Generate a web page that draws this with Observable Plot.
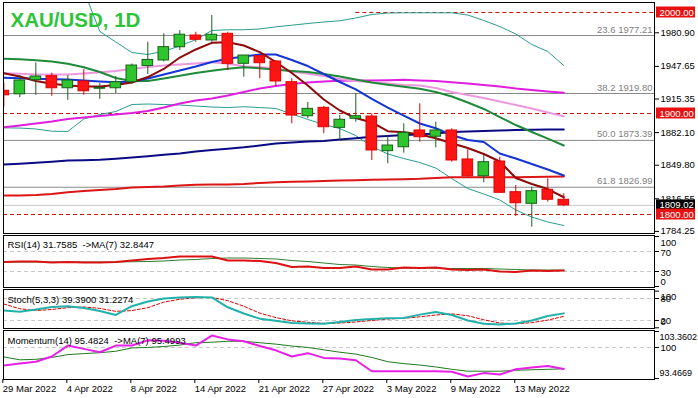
<!DOCTYPE html>
<html><head><meta charset="utf-8">
<script src="https://cdn.jsdelivr.net/npm/d3@7"></script>
<script src="https://cdn.jsdelivr.net/npm/@observablehq/plot@0.6"></script>
<style>
body{margin:0;background:#fff;}
#chart{position:relative;width:698px;height:398px;overflow:hidden;background:#fff;}
#chart svg{position:absolute;left:0;}
</style></head><body><div id="chart"></div>
<script>
// ---------- data ----------
const title = "XAU/USD, 1D";
const dates = ["29 Mar 2022","30 Mar 2022","31 Mar 2022","1 Apr 2022","4 Apr 2022","5 Apr 2022","6 Apr 2022","7 Apr 2022","8 Apr 2022","11 Apr 2022","12 Apr 2022","13 Apr 2022","14 Apr 2022","18 Apr 2022","19 Apr 2022","20 Apr 2022","21 Apr 2022","22 Apr 2022","25 Apr 2022","26 Apr 2022","27 Apr 2022","28 Apr 2022","29 Apr 2022","2 May 2022","3 May 2022","4 May 2022","5 May 2022","6 May 2022","9 May 2022","10 May 2022","11 May 2022","12 May 2022","13 May 2022","16 May 2022","17 May 2022","18 May 2022"];
const xTickLabels = ["29 Mar 2022","4 Apr 2022","8 Apr 2022","14 Apr 2022","21 Apr 2022","27 Apr 2022","3 May 2022","9 May 2022","13 May 2022"];

const open  = [1922.5,1919,1933,1937,1925,1931.7,1924.5,1925,1931,1947,1952.5,1965.6,1977.2,1972.3,1978.9,1949.2,1956.7,1951.5,1931,1897.3,1905.6,1885.8,1894.8,1897,1862.7,1866.6,1883.2,1877,1883.2,1854.5,1837.9,1852.5,1822.1,1810.6,1824.5,1814.6];
const high  = [1930,1937.6,1950,1940,1937.6,1943.6,1929.7,1936.6,1949,1970.6,1979,1982,1980.5,1997,1980.5,1957.4,1957.4,1952.5,1934.4,1911,1907,1898,1919.5,1899.7,1878,1889.8,1909.6,1891.4,1884.8,1865,1858.4,1856.7,1828.7,1827,1835.4,1820.5];
const low   = [1906,1915.8,1918,1917,1913,1918,1914,1919.8,1929,1938.6,1951,1962.4,1970.6,1970.6,1942.6,1936,1934.4,1926.7,1889.8,1894.8,1880,1872.6,1891.4,1853.5,1850.2,1860.7,1871.6,1866,1851.8,1837,1831.4,1821.5,1798,1787.4,1812.2,1807.8];
const close = [1918,1932.7,1936.6,1925,1932.7,1922,1925.5,1931,1947.5,1953,1965.7,1978,1973,1978,1949.2,1957.4,1949.8,1931.7,1898,1904.6,1886.4,1893.8,1897.3,1863.4,1868.3,1880.9,1876.5,1883.2,1853.5,1837.9,1851.8,1821.5,1811.2,1823.1,1814.6,1809.02];

const maMaroon  = [1939.9,1936.6,1932.2,1929.4,1927.7,1926.7,1926.7,1928.2,1930.7,1936.1,1944.1,1955.4,1963.4,1970.0,1970.6,1967.3,1960.7,1951.0,1940.1,1927.7,1913.9,1903.0,1895.5,1891.1,1882.5,1881.5,1879.2,1875.5,1870.6,1865.8,1859.9,1852.5,1836.1,1830.2,1825.2,1817.1];
const maBlue    = [1935.3,1934.9,1934.4,1934.0,1933.7,1932.7,1931.7,1931.0,1931.7,1934.7,1938.6,1942.6,1946.5,1951.0,1954.2,1956.4,1958.4,1958.4,1953.0,1947.0,1939.1,1931.2,1923.8,1914.4,1905.9,1898.0,1890.1,1885.4,1878.7,1873.8,1871.8,1860.4,1855.4,1850.0,1844.6,1838.6];
const maGreen   = [1954.2,1953.7,1952.8,1951.5,1949.2,1945.8,1941.1,1935.1,1932.2,1932.2,1934.7,1937.3,1940.1,1942.3,1944.3,1945.8,1944.9,1943.4,1942.1,1941.1,1939.1,1936.6,1933.7,1930.7,1928.5,1926.4,1924.5,1921.3,1916.8,1910.9,1904.5,1896.5,1888.6,1881.7,1875.2,1868.3];
const maPlum    = [1939.9,1939.3,1938.6,1938.6,1938.6,1939.6,1940.8,1942.1,1944.1,1946.0,1947.5,1948.5,1949.5,1950.7,1949.2,1946.8,1945.8,1944.9,1941.6,1939.3,1937.1,1934.2,1932.2,1931.0,1929.7,1928.2,1927.7,1925.2,1921.3,1918.3,1915.3,1911.9,1908.4,1905.0,1901.0,1897.3];
const maMagenta = [1886.4,1888.1,1890.1,1892.1,1894.6,1896.0,1897.5,1899.0,1900.5,1902.5,1905.9,1909.9,1912.9,1914.9,1917.8,1921.3,1924.8,1927.2,1929.2,1930.7,1931.7,1932.4,1932.7,1932.7,1933.0,1933.4,1932.7,1932.2,1930.9,1929.7,1928.2,1926.7,1924.8,1923.3,1921.8,1920.5];
const maNavy    = [1849.5,1850.3,1851.3,1852.3,1853.5,1853.8,1854.2,1855.2,1856.4,1857.7,1859.1,1860.4,1862.4,1863.9,1865.1,1866.5,1868.3,1870.2,1871.3,1872.3,1872.8,1874.3,1875.5,1877.0,1877.7,1878.7,1879.2,1880.2,1881.7,1882.2,1882.7,1883.2,1883.7,1883.9,1884.2,1884.2];
const maRed     = [1818.8,1818.8,1819.3,1820.3,1822.0,1823.3,1824.3,1825.2,1826.7,1827.2,1827.7,1828.7,1829.4,1829.7,1829.7,1830.2,1831.2,1831.9,1832.4,1832.7,1833.2,1833.7,1834.0,1834.3,1834.7,1835.0,1835.3,1836.1,1836.8,1836.9,1836.9,1836.9,1837.0,1837.1,1837.4,1837.6];
const bandUpper = [2060,2050,2040,2032,2025,2021.8,1981.2,1970.8,1960.4,1958.4,1961.7,1966.8,1973.1,1982.2,1982.9,1982.9,1983.7,1985.8,1987.4,1989.1,1990.6,1991.8,1994.6,1998.0,1999.5,1999.7,1999.7,1999.7,1999.7,1997.5,1992.1,1986.1,1978.7,1968.3,1961.4,1947.5];
const bandLower = [1885.8,1885.6,1884.7,1882.5,1882.2,1894.6,1899.0,1902.0,1908.9,1909.4,1908.9,1908.4,1907.4,1906.4,1905.9,1906.7,1905.9,1905.0,1899.5,1894.1,1889.1,1885.1,1878.2,1867.3,1859.9,1855.4,1851.5,1846.0,1835.6,1825.7,1820.3,1814.4,1804.5,1797.5,1792.6,1789.1];

const fibPct    = ["23.6","38.2","50.0","61.8"];
const fibLevels = [1977.21,1919.80,1873.39,1826.99];
const roundLevels = [2000,1900,1800];
const level2000From = "29 Apr 2022";
const priceTicks = [1980.90,1947.65,1915.35,1882.10,1849.80,1816.55,1784.25];

const rsi   = [49,50,50,48,49,48,48,49,52,55,57,60,60,60,52,52,51,47,39,40,37,37,40,34,34,38,37,38,34,33,34,30,29,32,31,31.7585];
const rsiMA = [49,49,49,49,49,49,49,49,49.5,50,51,53,54,56,57,57,56,55,52,50,47,44,43,40,38,37,37,37,36,36,36,35,34,33,33,32.8447];
const stochK = [47,44,50,57,59,54,46,35,59,72,80,83,84,83,56,39,25,19,13,12,11,16,21,24,26,27,36,43,35,20,11,9,12,20,32,39.39];
const stochD = [65,52,47,50,55,57,53,45,47,55,70,78,82,83,74,59,40,28,19,15,12,13,16,20,24,26,30,35,38,33,22,13,11,14,21,31.2274];
const mom   = [96.2,96.6,97.0,98.1,100.4,99.7,99.0,100.4,100.4,101.5,101.4,101.0,100.4,102.5,101.7,101.3,100.3,99.4,98.1,98.8,97.8,97.7,97.3,95.0,95.0,95.0,95.0,95.0,94.9,93.9,94.6,94.3,95.4,95.8,96.1,95.4824];
const momMA = [98.0,97.4,97.5,97.9,98.5,98.7,98.9,99.2,99.9,100.0,100.2,100.5,101.0,101.1,101.3,101.3,101.0,100.7,100.3,100.0,99.5,99.0,98.6,97.9,97.0,96.6,96.3,95.9,95.4,95.0,95.0,95.0,95.2,95.3,95.4,95.4993];
const momLabels = [103.3602, 100, 93.4669];

// ---------- layout ----------
const W = 698, ML = 3, MR = 44;
const xDomain = [-0.02, 40.67];
const FONT = "'Liberation Sans', Arial, sans-serif";
const style = {fontFamily: FONT, fontSize: "9.5px", color: "#000", background: "transparent", overflow: "visible"};
const N = dates.length;
const idx = d3.range(N);
const xMax = xDomain[1];
const lineOf = (arr, stroke, w, extra = {}) => Plot.line(arr, {x: (d, i) => i, y: d => d, stroke, strokeWidth: w, clip: true, ...extra});

// value boxes on the price axis (drawn through the y scale)
const boxMarks = (items, bg) => [
  Plot.rect(items, {x1: xMax, x2: xMax, y1: d => d, y2: d => d, insetLeft: 2, insetRight: -41, insetTop: -5.5, insetBottom: -5.5, fill: bg}),
  Plot.text(items, {x: xMax, y: d => d, text: d => d.toFixed(2), textAnchor: "start", dx: 5, fill: "#fff"})
];

const candles = idx.map(i => ({i, o: open[i], h: high[i], l: low[i], c: close[i], up: close[i] >= open[i]}));
const lastClose = close[N - 1];

const main = Plot.plot({
  width: W, height: 235, marginLeft: ML, marginRight: MR, marginTop: 2, marginBottom: 2,
  x: {domain: xDomain, axis: null},
  y: {domain: [1781.2, 2009.9], axis: null},
  color: {type: "identity"},
  style,
  marks: [
    Plot.ruleY(fibLevels, {stroke: "#8a8a8a"}),
    Plot.ruleY([lastClose], {stroke: "#c8c8c8"}),
    Plot.ruleY(roundLevels, {x1: (d) => d === 2000 ? dates.indexOf(level2000From) : xDomain[0], x2: xMax, stroke: "#d01010", strokeDasharray: "4,3"}),
    lineOf(bandUpper, "#2a9d8f", 1),
    lineOf(bandLower, "#2a9d8f", 1),
    lineOf(maNavy, "#0a0a85", 2),
    lineOf(maRed, "#dd1515", 2),
    lineOf(maMagenta, "#e01ee0", 2),
    lineOf(maPlum, "#ec98de", 2),
    lineOf(maGreen, "#1f8a3a", 2),
    lineOf(maBlue, "#1434d8", 2),
    lineOf(maMaroon, "#8c0a0a", 2),
    Plot.ruleX(candles, {x: "i", y1: "l", y2: "h", stroke: d => d.up ? "#17601a" : "#e00000", clip: true}),
    Plot.rect(candles, {x1: d => d.i - 0.5, x2: d => d.i + 0.5, y1: "o", y2: "c", insetLeft: 2.7, insetRight: 2.7,
      fill: d => d.up ? "#2fc52f" : "#ff1414", stroke: d => d.up ? "#17601a" : "#e00000", clip: true}),
    Plot.text(fibLevels, {x: xMax, y: d => d, text: (d, i) => fibPct[i] + " " + d.toFixed(2), textAnchor: "end", dx: -2, dy: -6, fill: "#808080"}),
    Plot.text([title], {frameAnchor: "top-left", dx: 7, dy: 10, fontSize: 20.5, fontWeight: "bold", fill: "#2ec43a"}),
    Plot.axisY({anchor: "right", ticks: priceTicks, tickFormat: d3.format(".2f"), tickSize: 4, tickPadding: 2, label: null, dy: 1}),
    ...boxMarks([2000, 1900], "#e81010"),
    ...boxMarks([lastClose], "#000"),
    ...boxMarks([1800], "#e81010"),
    Plot.frame({stroke: "#000"})
  ]
});
main.style.top = "0px";

const rsiPlot = Plot.plot({
  width: W, height: 54, marginLeft: ML, marginRight: MR, marginTop: 1, marginBottom: 1,
  x: {domain: xDomain, axis: null}, y: {domain: [-2, 102], axis: null}, style,
  marks: [
    Plot.ruleY([70, 30], {stroke: "#c8c8c8", strokeDasharray: "4,3"}),
    lineOf(rsiMA, "#2e7d32", 1),
    lineOf(rsi, "#dd1111", 2),
    Plot.text(["RSI(14) " + rsi[N-1].toFixed(4) + "\u00a0\u00a0->MA(7) " + rsiMA[N-1].toFixed(4)], {frameAnchor: "top-left", dx: 4, dy: 6}),
    Plot.axisY({anchor: "right", ticks: [100, 70, 30, 0], tickSize: 4, tickFormat: () => "", label: null}),
    Plot.text([70, 30], {x: xMax, y: d => d, text: d => String(d), textAnchor: "start", dx: 6, dy: 1}),
    Plot.text([100], {x: xMax, y: d => d, text: d => String(d), textAnchor: "start", dx: 6, dy: 6}),
    Plot.text([0], {x: xMax, y: d => d, text: d => String(d), textAnchor: "start", dx: 6, dy: -5}),
    Plot.frame({stroke: "#000"})
  ]
});
rsiPlot.style.top = "234px";

const stochPlot = Plot.plot({
  width: W, height: 41, marginLeft: ML, marginRight: MR, marginTop: 1, marginBottom: 1,
  x: {domain: xDomain, axis: null}, y: {domain: [-1.9, 104.6], axis: null}, style,
  marks: [
    Plot.ruleY([80, 20], {stroke: "#c8c8c8", strokeDasharray: "4,3"}),
    lineOf(stochD, "#e00000", 1, {strokeDasharray: "3,2"}),
    lineOf(stochK, "#20b2aa", 2),
    Plot.text(["Stoch(5,3,3) " + stochK[N-1].toFixed(4) + " " + stochD[N-1].toFixed(4)], {frameAnchor: "top-left", dx: 4, dy: 6.5}),
    Plot.axisY({anchor: "right", ticks: [100, 80, 20, 0], tickSize: 4, tickFormat: () => "", label: null}),
    Plot.text([80, 20], {x: xMax, y: d => d, text: d => String(d), textAnchor: "start", dx: 6, dy: 0}),
    Plot.text([100], {x: xMax, y: d => d, text: d => String(d), textAnchor: "start", dx: 6, dy: 6}),
    Plot.text([0], {x: xMax, y: d => d, text: d => String(d), textAnchor: "start", dx: 6, dy: -6}),
    Plot.frame({stroke: "#000"})
  ]
});
stochPlot.style.top = "288px";

const momPlot = Plot.plot({
  width: W, height: 69, marginLeft: ML, marginRight: MR, marginTop: 1, marginBottom: 19,
  x: {domain: xDomain}, y: {domain: [93.255, 103.57], axis: null}, style,
  marks: [
    Plot.ruleY([100], {stroke: "#c8c8c8", strokeDasharray: "4,3"}),
    lineOf(momMA, "#1f7a1f", 1),
    lineOf(mom, "#e620e6", 2),
    Plot.text(["Momentum(14) " + mom[N-1].toFixed(4) + "\u00a0\u00a0->MA(7) " + momMA[N-1].toFixed(4)], {frameAnchor: "top-left", dx: 4, dy: 6.5}),
    Plot.axisY({anchor: "right", ticks: momLabels, tickSize: 4, tickFormat: () => "", label: null}),
    Plot.text([momLabels[1]], {x: xMax, y: d => d, text: d => String(d), textAnchor: "start", dx: 6}),
    Plot.text([momLabels[0]], {x: xMax, y: d => d, text: d => d.toFixed(4), textAnchor: "start", dx: 5, dy: 6, fontSize: 9}),
    Plot.text([momLabels[2]], {x: xMax, y: d => d, text: d => d.toFixed(4), textAnchor: "start", dx: 5, dy: -5, fontSize: 9}),
    Plot.axisX({ticks: xTickLabels.map(l => dates.indexOf(l)), tickFormat: d => dates[d], tickSize: 4, tickPadding: 2, textAnchor: "start", dx: -1, label: null}),
    Plot.frame({stroke: "#000"})
  ]
});
momPlot.style.top = "329px";

const root = document.getElementById("chart");
root.append(main, rsiPlot, stochPlot, momPlot);
</script>
</body></html>
